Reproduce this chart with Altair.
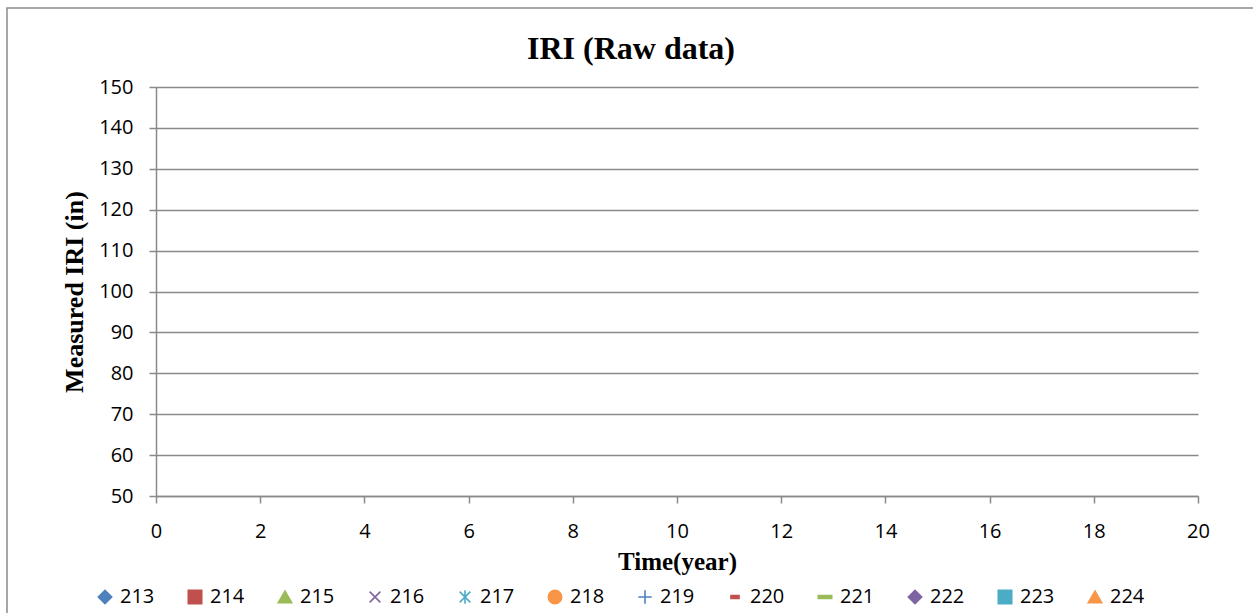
import altair as alt
import pandas as pd

# Series plotted in the IRI chart (no measurements recorded yet)
series = ["213", "214", "215", "216", "217", "218",
          "219", "220", "221", "222", "223", "224"]
years = [None] * len(series)
iri = [None] * len(series)

colors = ["#4F81BD", "#C0504D", "#9BBB59", "#8064A2", "#4BACC6", "#F79646",
          "#4F81BD", "#C0504D", "#9BBB59", "#8064A2", "#4BACC6", "#F79646"]
shapes = [
    "diamond",
    "square",
    "triangle-up",
    "M-0.8,-0.8L0.8,0.8M-0.8,0.8L0.8,-0.8",
    "M-0.8,-0.8L0.8,0.8M-0.8,0.8L0.8,-0.8M0,-1L0,1",
    "circle",
    "M-1,0L1,0M0,-1L0,1",
    "M-0.6,-0.22L0.6,-0.22L0.6,0.22L-0.6,0.22Z",
    "M-1,-0.2L1,-0.2L1,0.2L-1,0.2Z",
    "diamond",
    "square",
    "triangle-up",
]

x_ticks = list(range(0, 21, 2))
y_ticks = list(range(50, 151, 10))
chart_title = "IRI (Raw data)"

df = pd.DataFrame({"series": series, "year": years, "iri": iri})

SERIF = "Liberation Serif"
SANS = "Open Sans"
GRID = "#8a8a8a"

color_scale = alt.Scale(domain=series, range=colors)

points = alt.Chart(df).mark_point(filled=True, size=180, strokeWidth=1.6,
                                  opacity=1).encode(
    x=alt.X("year:Q",
            scale=alt.Scale(domain=[0, 20], nice=False, zero=False),
            axis=alt.Axis(values=x_ticks, title="Time(year)", grid=False,
                          tickSize=7, labelPadding=18, titlePadding=8,
                          labelFlush=False)),
    y=alt.Y("iri:Q",
            scale=alt.Scale(domain=[50, 150], nice=False, zero=False),
            axis=alt.Axis(values=y_ticks, title="Measured IRI (in)", grid=True,
                          tickSize=7, labelPadding=16, titlePadding=11,
                          labelFlush=False)),
    fill=alt.Fill("series:N", scale=color_scale, title=None,
                  legend=alt.Legend(orient="none", direction="horizontal",
                                    columns=12, legendX=-61, legendY=500)),
    stroke=alt.Stroke("series:N", scale=color_scale, title=None),
    shape=alt.Shape("series:N", scale=alt.Scale(domain=series, range=shapes),
                    title=None),
)

# Outer frame around the whole figure
frame = alt.Chart(alt.Data(values=[{"f": 1}])).mark_rect(
    fill=None, stroke="#8a8a8a", strokeWidth=1.5
).encode(
    x=alt.value(-149), x2=alt.value(1110),
    y=alt.value(-79), y2=alt.value(540),
)

# Chart heading, centred on the outer frame
heading = alt.Chart(alt.Data(values=[{"t": chart_title}])).mark_text(
    font=SERIF, fontSize=32, fontWeight="bold", color="#000000",
    align="center", baseline="alphabetic"
).encode(
    text="t:N",
    x=alt.value(475), y=alt.value(-28),
)

chart = alt.layer(frame, heading, points).properties(
    width=1042,
    height=409,
    autosize=alt.AutoSizeParams(type="none"),
    padding={"left": 156, "top": 87, "right": 55, "bottom": 117},
).configure_view(
    stroke=None
).configure_axis(
    domainColor=GRID, domainWidth=1.5, tickColor=GRID, tickWidth=1.5,
    gridColor=GRID, gridWidth=1.5, gridOpacity=1,
    labelFont=SANS, labelFontSize=20, labelColor="#000000",
    titleFont=SERIF, titleFontSize=25, titleFontWeight="bold",
    titleColor="#000000",
).configure_axisY(
    titleFontSize=26,
).configure_legend(
    labelFont=SANS, labelFontSize=20, labelColor="#000000",
    symbolSize=180, symbolStrokeWidth=1.6, labelOffset=5, columnPadding=30,
    symbolType="circle", symbolOpacity=1,
)

chart.save("out.html", embed_options={"renderer": "svg", "actions": False})
